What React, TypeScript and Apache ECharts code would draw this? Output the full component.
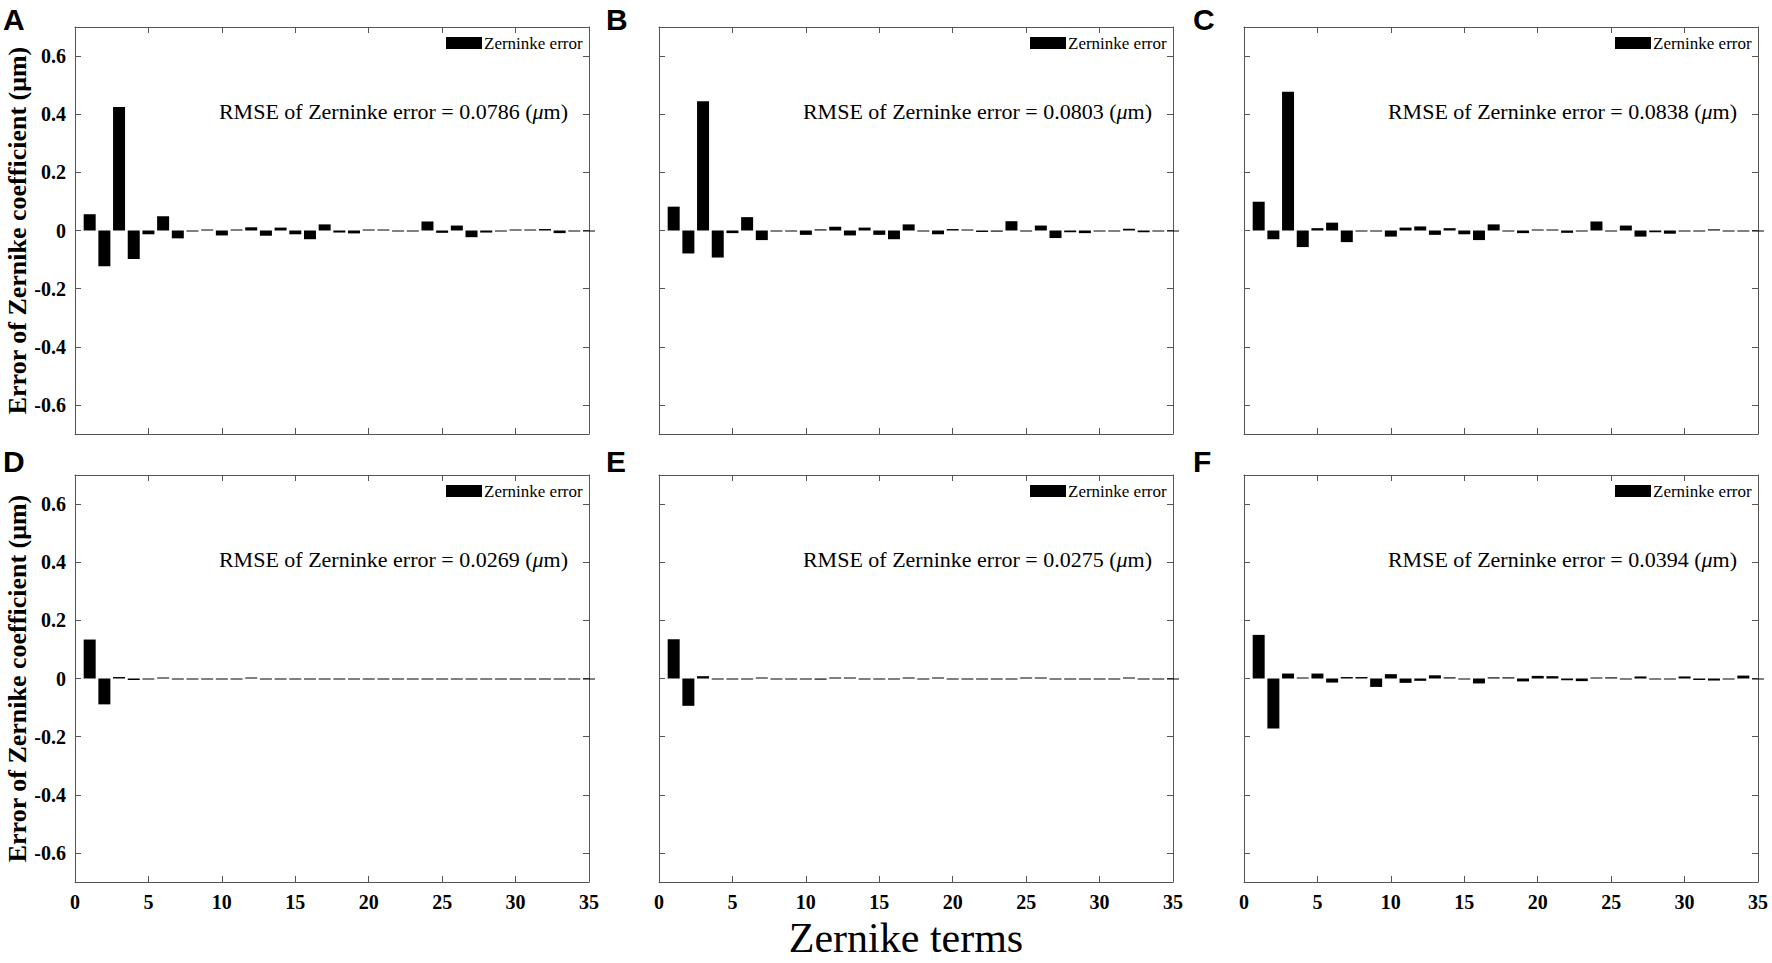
import React, { useEffect, useRef } from "react";
import * as echarts from "echarts";

// ---------- data ----------
const TERMS = [1, 2, 3, 4, 5, 6, 7, 8, 9, 10, 11, 12, 13, 14, 15, 16, 17, 18, 19, 20, 21, 22, 23, 24, 25, 26, 27, 28, 29, 30, 31, 32, 33, 34, 35];

const ERR_A = [0.056, -0.123, 0.425, -0.098, -0.013, 0.049, -0.027, -0.003, 0.002, -0.017, 0.001, 0.011, -0.018, 0.010, -0.013, -0.030, 0.021, -0.007, -0.010, 0.002, 0.001, -0.001, -0.002, 0.031, -0.008, 0.017, -0.023, -0.007, -0.003, 0.001, 0.001, 0.005, -0.009, -0.002, -0.001];
const ERR_B = [0.082, -0.079, 0.445, -0.093, -0.009, 0.046, -0.033, -0.001, -0.001, -0.015, 0.004, 0.013, -0.017, 0.010, -0.015, -0.030, 0.021, -0.002, -0.013, 0.005, 0.001, -0.005, -0.004, 0.032, -0.002, 0.017, -0.026, -0.006, -0.009, -0.002, -0.002, 0.006, -0.006, -0.002, -0.002];
const ERR_C = [0.099, -0.030, 0.477, -0.057, 0.008, 0.027, -0.040, -0.001, -0.002, -0.021, 0.010, 0.014, -0.015, 0.008, -0.013, -0.033, 0.021, -0.002, -0.009, 0.001, 0.001, -0.008, -0.002, 0.031, -0.002, 0.017, -0.021, -0.006, -0.011, -0.001, -0.001, 0.004, -0.002, -0.002, -0.003];
const ERR_D = [0.134, -0.089, 0.005, -0.005, -0.002, 0.002, -0.001, -0.001, -0.001, -0.001, -0.001, 0.002, -0.001, -0.001, -0.001, -0.001, -0.001, -0.001, -0.001, -0.001, -0.001, -0.001, -0.001, -0.001, -0.001, -0.001, -0.001, -0.001, -0.001, -0.001, -0.001, -0.001, -0.001, -0.001, -0.001];
const ERR_E = [0.135, -0.094, 0.008, -0.002, -0.002, -0.001, 0.002, -0.001, -0.002, -0.001, -0.004, 0.002, 0.003, -0.002, -0.002, -0.002, 0.003, -0.001, 0.001, -0.001, -0.003, -0.003, -0.001, -0.001, 0.001, 0.003, -0.001, -0.001, -0.002, -0.003, -0.002, 0.001, -0.001, -0.001, -0.001];
const ERR_F = [0.150, -0.172, 0.017, 0.002, 0.017, -0.014, 0.005, 0.005, -0.029, 0.015, -0.015, -0.008, 0.011, 0.004, -0.001, -0.017, 0.004, 0.004, -0.010, 0.009, 0.008, -0.006, -0.009, 0.001, 0.004, -0.003, 0.007, -0.001, -0.001, 0.007, -0.005, -0.007, -0.001, 0.010, -0.002];

const PANEL_DATA = [ERR_A, ERR_B, ERR_C, ERR_D, ERR_E, ERR_F];
const PANEL_LABELS = ["A", "B", "C", "D", "E", "F"];
const RMSE_VALUES = ["0.0786", "0.0803", "0.0838", "0.0269", "0.0275", "0.0394"];

const SERIES_NAME = "Zerninke error";
const Y_TICKS = [-0.6, -0.4, -0.2, 0, 0.2, 0.4, 0.6];
const Y_MIN = -0.7;
const Y_MAX = 0.7;
const X_MIN = 0;
const X_MAX = 35;
const X_INTERVAL = 5;
const Y_LABEL = "Error of Zernike coefficient (μm)";
const X_TITLE = "Zernike terms";

// ---------- layout ----------
const COL_LEFT = [75, 659, 1244];
const ROW_TOP = [27, 475];
const PW = 514;
const PH = 407;
const LETTER_X = [3, 606, 1193];
const LETTER_Y = [19, 461];

const SERIF = "'Liberation Serif', 'Times New Roman', serif";
const SANS = "'Liberation Sans', Arial, sans-serif";
const FRAME = "#555";

function buildOption() {
  const grids: any[] = [];
  const xAxes: any[] = [];
  const yAxes: any[] = [];
  const series: any[] = [];
  const legends: any[] = [];
  const graphics: any[] = [];

  PANEL_DATA.forEach((vals, k) => {
    const row = Math.floor(k / 3);
    const col = k % 3;
    const left = COL_LEFT[col];
    const top = ROW_TOP[row];
    grids.push({ left, top, width: PW, height: PH, containLabel: false });

    const lineStyle = { color: FRAME, width: 1 };
    const baseX = {
      gridIndex: k,
      type: "value",
      min: X_MIN,
      max: X_MAX,
      interval: X_INTERVAL,
      axisLine: { show: true, onZero: false, lineStyle },
      axisTick: { show: true, inside: true, length: 6, lineStyle },
      splitLine: { show: false },
    };
    xAxes.push({
      ...baseX,
      position: "bottom",
      axisLabel: {
        show: row === 1,
        fontFamily: SERIF,
        fontWeight: "bold",
        fontSize: 20,
        color: "#000",
        margin: 10,
      },
    });
    xAxes.push({ ...baseX, position: "top", axisLabel: { show: false } });

    const baseY = {
      gridIndex: k,
      type: "value",
      min: Y_MIN,
      max: Y_MAX,
      axisLine: { show: true, onZero: false, lineStyle },
      axisTick: { show: true, inside: true, length: 6, lineStyle, customValues: Y_TICKS },
      splitLine: { show: false },
    };
    yAxes.push({
      ...baseY,
      position: "left",
      axisLabel: {
        show: col === 0,
        customValues: Y_TICKS,
        formatter: (v: number) => (Math.abs(v) < 1e-9 ? "0" : v.toFixed(1)),
        fontFamily: SERIF,
        fontWeight: "bold",
        fontSize: 20,
        color: "#000",
        margin: 9,
      },
    });
    yAxes.push({ ...baseY, position: "right", axisLabel: { show: false } });

    series.push({
      type: "bar",
      name: SERIES_NAME,
      xAxisIndex: 2 * k,
      yAxisIndex: 2 * k,
      data: TERMS.map((t, i) => [t, vals[i]]),
      barWidth: 12,
      barMinHeight: 1,
      clip: true,
      silent: true,
      itemStyle: { color: "#000" },
    });

    legends.push({
      data: [SERIES_NAME],
      left: left + 371,
      top: top + 6,
      padding: 0,
      icon: "rect",
      itemWidth: 36,
      itemHeight: 12,
      selectedMode: false,
      textStyle: { fontFamily: SERIF, fontSize: 17, color: "#000", lineHeight: 20, padding: [0, 0, 0, -3] },
    });

    graphics.push({
      type: "text",
      x: left + 493,
      y: top + 84,
      silent: true,
      style: {
        text: `{n|RMSE of Zerninke error = ${RMSE_VALUES[k]} (}{i|μ}{n|m)}`,
        align: "right",
        verticalAlign: "middle",
        rich: {
          n: { fontFamily: SERIF, fontSize: 22, fill: "#000", color: "#000" },
          i: { fontFamily: SERIF, fontSize: 22, fontStyle: "italic", fill: "#000", color: "#000" },
        },
      },
    });

    graphics.push({
      type: "text",
      x: LETTER_X[col],
      y: LETTER_Y[row],
      silent: true,
      style: {
        text: PANEL_LABELS[k],
        fontFamily: SANS,
        fontWeight: "bold",
        fontSize: 30,
        fill: "#000",
        align: "left",
        verticalAlign: "middle",
      },
    });
  });

  ROW_TOP.forEach((top) => {
    graphics.push({
      type: "text",
      x: 17,
      y: top + PH / 2,
      rotation: Math.PI / 2,
      silent: true,
      style: {
        text: Y_LABEL,
        fontFamily: SERIF,
        fontSize: 26,
        fontWeight: "bold",
        fill: "#000",
        align: "center",
        verticalAlign: "middle",
      },
    });
  });

  graphics.push({
    type: "text",
    x: 906,
    y: 938,
    silent: true,
    style: {
      text: X_TITLE,
      fontFamily: SERIF,
      fontSize: 42,
      fill: "#000",
      align: "center",
      verticalAlign: "middle",
    },
  });

  return {
    animation: false,
    backgroundColor: "#fff",
    grid: grids,
    xAxis: xAxes,
    yAxis: yAxes,
    legend: legends,
    series,
    graphic: graphics,
  };
}

export default function App() {
  const ref = useRef<HTMLDivElement>(null);
  useEffect(() => {
    if (!ref.current) return;
    const chart = echarts.init(ref.current, null, { renderer: "svg" });
    chart.setOption(buildOption() as any);
    return () => chart.dispose();
  }, []);
  return (
    <div
      ref={ref}
      style={{ position: "absolute", left: 0, top: 0, width: 1772, height: 963, background: "#fff" }}
    />
  );
}
